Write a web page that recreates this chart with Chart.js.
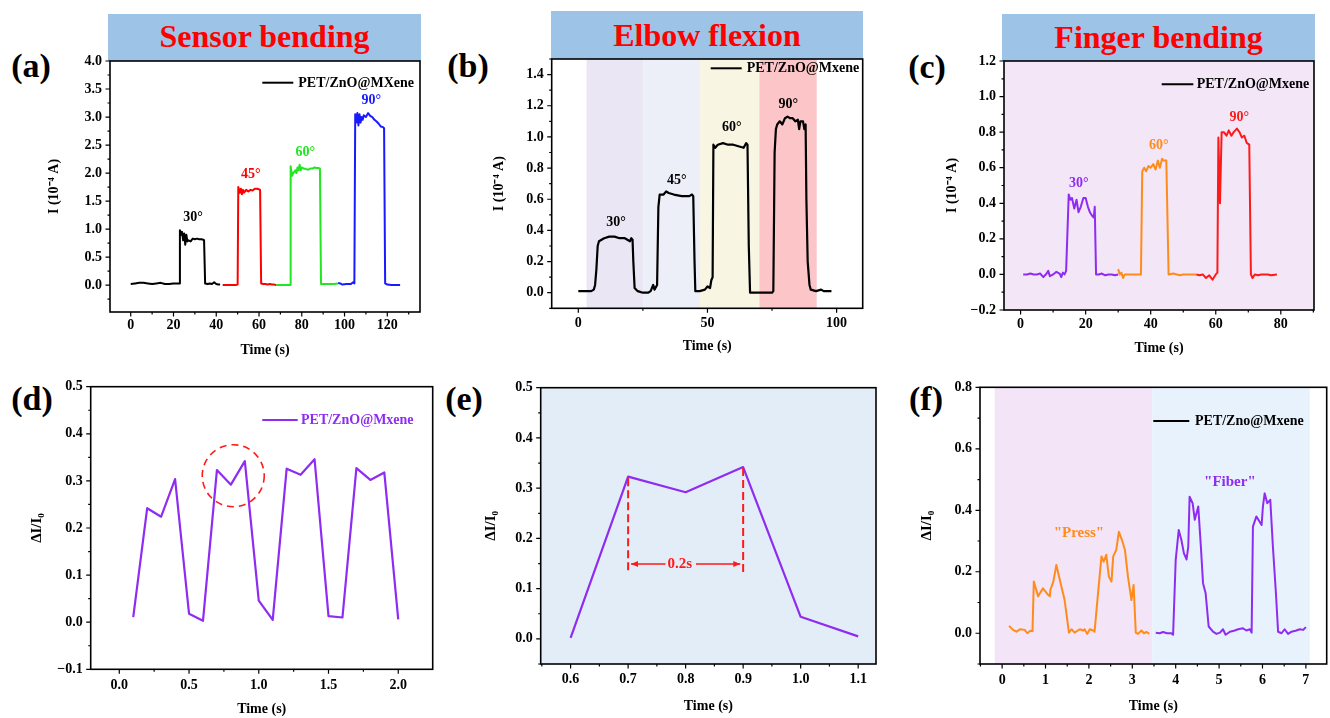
<!DOCTYPE html>
<html><head><meta charset="utf-8">
<script src="https://cdn.jsdelivr.net/npm/chart.js@4.4.1/dist/chart.umd.min.js"></script>
<style>
body{margin:0;width:1330px;height:718px;background:#fff;position:relative;overflow:hidden;font-family:'Liberation Serif','Times New Roman',serif}
canvas{position:absolute;left:0;top:0}
.hdr{position:absolute;background:#9dc3e6;color:#ff0000;font-weight:bold;font-size:32px;text-align:center;white-space:nowrap}
.lab{position:absolute;font-weight:bold;font-size:34px;width:70px;text-align:center;line-height:34px;color:#000}
</style></head><body>
<div class="hdr" style="left:108px;top:14px;width:313px;height:47px;line-height:44px">Sensor bending</div>
<div class="hdr" style="left:551px;top:11px;width:312px;height:48px;line-height:48px">Elbow flexion</div>
<div class="hdr" style="left:1002px;top:14px;width:313px;height:47px;line-height:47px">Finger bending</div>
<div class="lab" style="left:-4px;top:49px">(a)</div>
<div class="lab" style="left:433px;top:49px">(b)</div>
<div class="lab" style="left:892px;top:50px">(c)</div>
<div class="lab" style="left:-3px;top:382px">(d)</div>
<div class="lab" style="left:429px;top:382px">(e)</div>
<div class="lab" style="left:891px;top:382px">(f)</div>
<canvas id="ca" width="1330" height="718"></canvas>
<canvas id="cb" width="1330" height="718"></canvas>
<canvas id="cc" width="1330" height="718"></canvas>
<canvas id="cd" width="1330" height="718"></canvas>
<canvas id="ce" width="1330" height="718"></canvas>
<canvas id="cf" width="1330" height="718"></canvas>
<script>
// ---------------- DATA ----------------
// (a) Sensor bending: [time s, I (1e-4 A)]
const a30 = [[0,0.02],[2,0.03],[4,0.04],[6,0.04],[8,0.03],[10,0.02],[12,0.03],[14,0.04],[16,0.02],[18,0.02],[20,0.03],[22,0.03],[22.8,0.03],[23,0.98],[23.5,0.9],[24,0.95],[24.5,0.8],[25,0.92],[25.5,0.72],[26,0.9],[26.5,0.78],[27,0.8],[28,0.78],[29,0.83],[30,0.82],[31,0.83],[32,0.82],[33,0.82],[34,0.81],[34.3,0.8],[34.8,0.03],[36,0.02],[37,0.03],[38,0.02],[39,0.05],[40,0.02],[41,0.01],[41.8,0.01]];
const a45 = [[43,0.0],[45,0.0],[47,0.0],[49,0.0],[50,0.01],[50.3,1.75],[51,1.65],[51.5,1.72],[52,1.62],[52.5,1.7],[53,1.65],[54,1.7],[55,1.67],[56,1.7],[57,1.69],[58,1.72],[59,1.72],[60,1.71],[60.5,1.7],[61,0.03],[62,0.02],[63,0.02],[64,0.01],[65,0.02],[66,0.01],[67,0.01],[68,0.0]];
const a60 = [[68,0.0],[70,0.0],[72,0.0],[74,0.0],[74.5,0.0],[74.8,2.12],[75.5,1.95],[76,2.0],[76.5,2.02],[77,2.05],[77.5,2.0],[78,2.1],[78.5,2.05],[79,2.15],[79.5,2.05],[80,2.1],[81,2.08],[82,2.07],[83,2.06],[84,2.08],[85,2.08],[86,2.1],[87,2.09],[88,2.09],[88.5,2.08],[89,0.02],[91,0.02],[93,0.02],[95,0.02],[97,0.03]];
const a90 = [[97,0.04],[98,0.03],[99,0.01],[101,0.02],[103,0.02],[104,0.05],[104.6,0.03],[105,3.05],[105.5,2.9],[106,3.07],[106.5,2.85],[107,3.05],[107.5,2.9],[108,3.0],[108.5,2.95],[109,3.03],[110,3.0],[111,3.07],[112,3.02],[113,3.0],[114,2.95],[115,2.92],[116,2.88],[117,2.83],[118,2.82],[118.5,2.8],[119,0.03],[120,0.01],[122,0.0],[124,0.0],[126,0.0]];
const aXTicks = [0,20,40,60,80,100,120];
const aYTicks = [0,0.5,1,1.5,2,2.5,3,3.5,4];

// (b) Elbow flexion
const bElbow = [[0,0.01],[2,0.01],[4,0.01],[5,0.01],[6,0.02],[6.5,0.05],[7,0.15],[7.5,0.3],[8,0.33],[9,0.34],[10,0.35],[12,0.36],[14,0.36],[16,0.35],[18,0.35],[19,0.34],[20,0.33],[20.5,0.35],[21,0.34],[21.3,0.2],[21.8,0.03],[23,0.01],[25,0.0],[27,0.0],[28,0.01],[29,0.05],[29.5,0.02],[30.5,0.05],[31,0.55],[31.5,0.63],[33,0.63],[34,0.65],[35,0.64],[37,0.63],[40,0.62],[43,0.62],[44,0.63],[44.5,0.62],[45,0.2],[45.3,0.01],[47,0.01],[49,0.02],[50,0.04],[51,0.03],[51.5,0.08],[52,0.1],[52.3,0.95],[53,0.93],[54,0.95],[56,0.96],[58,0.95],[60,0.95],[62,0.94],[64,0.93],[65,0.96],[65.5,0.95],[66,0.3],[66.5,0.0],[68,0.0],[70,0.0],[72,0.0],[74,0.0],[75,0.0],[75.5,0.01],[76,0.9],[76.5,1.05],[77,1.08],[78,1.1],[79,1.08],[80,1.12],[81,1.13],[82,1.12],[83,1.12],[84,1.1],[85,1.11],[85.5,1.05],[86,1.1],[87,1.1],[87.5,1.05],[88,1.08],[88.3,0.6],[88.8,0.2],[89.5,0.05],[90,0.02],[92,0.01],[94,0.02],[95,0.01],[98,0.01]];
const bBands = [[3.2,25.2],[25.2,47.1],[47.1,70.1],[70.1,92.3]];
const bXTicks = [0,50,100];
const bYTicks = [0,0.2,0.4,0.6,0.8,1.0,1.2,1.4];

// (c) Finger bending
const c30 = [[0.8,0.0],[2,0.0],[3,0.005],[4,0.0],[5,0.0],[6,0.005],[7,-0.015],[8,0.005],[8.5,0.02],[9,-0.01],[10,0.0],[11,0.015],[12,0.005],[12.5,-0.015],[13,0.01],[13.5,0.0],[14,0.02],[14.8,0.45],[15.3,0.42],[15.8,0.43],[16.5,0.37],[17.2,0.42],[17.8,0.35],[18.5,0.38],[19.3,0.43],[20,0.43],[20.7,0.38],[21.3,0.35],[22,0.33],[22.5,0.32],[22.8,0.38],[23.2,0.0],[24,0.0],[25,0.005],[26,-0.005],[27,0.0],[28,0.0],[29,-0.005],[30,0.0]];
const c60 = [[30,0.03],[30.5,0.0],[31,0.01],[31.5,-0.02],[32,0.0],[33,0.0],[34,0.0],[36,0.0],[37,0.0],[37.4,0.58],[38,0.6],[38.6,0.58],[39.3,0.61],[40,0.6],[40.8,0.62],[41.5,0.59],[42.2,0.64],[42.8,0.6],[43.5,0.65],[44,0.64],[44.8,0.64],[45.5,0.0],[47,0.005],[48,0.0],[49,-0.005],[50,0.0],[52,0.0],[54,0.0]];
const c90 = [[54,0.0],[55,-0.005],[56,0.0],[57,-0.02],[58,-0.005],[59,-0.03],[60,0.0],[60.5,0.01],[60.8,0.77],[61.3,0.4],[61.8,0.8],[62.5,0.8],[63.3,0.78],[64,0.81],[64.8,0.78],[65.5,0.8],[66.5,0.82],[67.3,0.8],[68,0.77],[68.8,0.78],[69.5,0.74],[70.3,0.73],[70.8,0.0],[71.3,-0.02],[72,0.0],[73,-0.005],[74,0.0],[75,0.0],[76,0.0],[77,-0.005],[78.8,0.0]];
const cXTicks = [0,20,40,60,80];
const cYTicks = [-0.2,0,0.2,0.4,0.6,0.8,1.0,1.2];

// (d) response over repeated cycles
const dTime = [0.1,0.2,0.3,0.4,0.5,0.6,0.7,0.8,0.9,1.0,1.1,1.2,1.3,1.4,1.5,1.6,1.7,1.8,1.9,2.0];
const dValue = [0.011,0.242,0.224,0.304,0.018,0.003,0.323,0.292,0.342,0.046,0.005,0.326,0.313,0.346,0.013,0.010,0.327,0.302,0.318,0.006];
const dXTicks = [0,0.5,1.0,1.5,2.0];
const dYTicks = [-0.1,0,0.1,0.2,0.3,0.4,0.5];

// (e) zoomed single cycle
const eTime = [0.6,0.7,0.8,0.9,1.0,1.1];
const eValue = [0.002,0.323,0.292,0.342,0.044,0.005];
const eXTicks = [0.6,0.7,0.8,0.9,1.0,1.1];
const eYTicks = [0,0.1,0.2,0.3,0.4,0.5];

// (f) "Press" / "Fiber"
const fPress = [[0.16,0.024],[0.25,0.011],[0.33,0.005],[0.41,0.013],[0.52,0.011],[0.58,0.0],[0.65,0.008],[0.7,0.007],[0.73,0.168],[0.83,0.12],[0.94,0.146],[1.06,0.125],[1.1,0.12],[1.11,0.14],[1.18,0.168],[1.25,0.222],[1.33,0.173],[1.44,0.108],[1.54,0.002],[1.6,0.013],[1.67,0.002],[1.79,0.013],[1.87,0.009],[1.9,0.013],[1.96,-0.002],[2.02,0.013],[2.1,0.009],[2.13,0.005],[2.21,0.13],[2.29,0.25],[2.34,0.233],[2.4,0.255],[2.46,0.184],[2.52,0.168],[2.56,0.25],[2.63,0.271],[2.69,0.33],[2.76,0.304],[2.83,0.271],[2.9,0.184],[2.98,0.108],[3.03,0.157],[3.08,0.002],[3.13,-0.002],[3.21,0.009],[3.27,0.0],[3.33,0.004],[3.39,-0.002]];
const fFiber = [[3.54,0.002],[3.63,0.0],[3.71,0.004],[3.8,0.0],[3.9,0.0],[3.94,-0.005],[4.0,0.238],[4.07,0.336],[4.13,0.304],[4.19,0.26],[4.25,0.24],[4.29,0.282],[4.32,0.444],[4.39,0.423],[4.44,0.369],[4.52,0.412],[4.58,0.282],[4.63,0.163],[4.69,0.13],[4.76,0.022],[4.86,0.005],[4.94,-0.002],[5.02,0.002],[5.09,0.013],[5.15,-0.005],[5.25,0.005],[5.36,0.009],[5.44,0.013],[5.55,0.016],[5.63,0.009],[5.71,0.013],[5.75,0.002],[5.78,0.347],[5.86,0.38],[5.98,0.352],[6.01,0.412],[6.05,0.455],[6.11,0.423],[6.18,0.434],[6.24,0.282],[6.31,0.13],[6.36,0.005],[6.44,0.0],[6.51,0.013],[6.59,-0.002],[6.67,0.005],[6.78,0.009],[6.86,0.013],[6.94,0.011],[7.0,0.02]];
const fBands = [[-0.17,3.46],[3.46,7.09]];
const fXTicks = [0,1,2,3,4,5,6,7];
const fYTicks = [0,0.2,0.4,0.6,0.8];

// ---------------- STYLE / RENDER ----------------
const FONT = "'Liberation Serif','Times New Roman',serif";
const PURPLE = '#8f2cf2', ORANGE = '#ff8c1a', RED = '#ff1a1a';
const fmt = (v, d) => (Math.abs(v) < 1e-9 ? 0 : v).toFixed(d).replace('-', '\u2212');
const pairs = arr => arr.map(p => ({x: p[0], y: p[1]}));
const zip = (xs, ys) => xs.map((x, i) => ({x, y: ys[i]}));

function minors(majors, min, max) {
  const step = majors[1] - majors[0], out = [];
  let v = majors[0] - step / 2;
  while (v >= min - 1e-9) { out.push(v); v -= step / 2; }
  v = majors[0] + step / 2;
  while (v <= max + 1e-9) { out.push(v); v += step / 2; }
  return out;
}

function makePanel(id, cfg) {
  const lhY = cfg.yTitleSize * 1.2, lhX = 14 * 1.2;
  const [L, T, R, B] = cfg.plot;
  const padLeft = cfg.yTitleX - lhY / 2;
  let padBottom = 718 - (cfg.xTitleY + lhX / 2);
  if (padBottom < 0) padBottom = 0;
  const wY = L - padLeft, hX = 718 - padBottom - B;
  const tickFont = {family: FONT, size: 14, weight: 'bold', lineHeight: 1.1};
  const deco = {
    id: 'deco_' + id,
    beforeDraw(chart) {
      const {ctx, chartArea: ca, scales: {x}} = chart;
      ctx.save();
      if (cfg.bg) { ctx.fillStyle = cfg.bg; ctx.fillRect(ca.left, ca.top, ca.width, ca.height); }
      (cfg.bands || []).forEach((b, i) => {
        const x0 = Math.max(ca.left, x.getPixelForValue(b[0])), x1 = Math.min(ca.right, x.getPixelForValue(b[1]));
        ctx.fillStyle = cfg.bandColors[i];
        ctx.fillRect(x0, ca.top, x1 - x0, ca.height);
      });
      ctx.restore();
    },
    afterDatasetsDraw(chart) {
      const {ctx, chartArea: ca, scales: {x, y}} = chart;
      ctx.save();
      // frame
      ctx.strokeStyle = '#000'; ctx.lineWidth = 1.6;
      ctx.strokeRect(ca.left, ca.top, ca.width, ca.height);
      // ticks
      ctx.lineWidth = 1.2;
      const xm = minors(cfg.xTicks, cfg.xMin, cfg.xMax), ym = minors(cfg.yTicks, cfg.yMin, cfg.yMax);
      ctx.beginPath();
      cfg.xTicks.forEach(v => { const p = x.getPixelForValue(v); ctx.moveTo(p, ca.bottom); ctx.lineTo(p, ca.bottom + 4.5); });
      xm.forEach(v => { const p = x.getPixelForValue(v); ctx.moveTo(p, ca.bottom); ctx.lineTo(p, ca.bottom + 2.5); });
      cfg.yTicks.forEach(v => { const p = y.getPixelForValue(v); ctx.moveTo(ca.left, p); ctx.lineTo(ca.left - 4.5, p); });
      ym.forEach(v => { const p = y.getPixelForValue(v); ctx.moveTo(ca.left, p); ctx.lineTo(ca.left - 2.5, p); });
      ctx.stroke();
      // text annotations
      (cfg.notes || []).forEach(n => {
        ctx.fillStyle = n.color; ctx.font = 'bold ' + (n.size || 14) + 'px ' + FONT;
        ctx.textAlign = 'center'; ctx.textBaseline = 'middle';
        ctx.fillText(n.text, x.getPixelForValue(n.x), y.getPixelForValue(n.y));
      });
      if (cfg.extra) cfg.extra(ctx, x, y, ca);
      // legend
      if (cfg.legend) {
        const lg = cfg.legend;
        ctx.strokeStyle = lg.lineColor; ctx.lineWidth = 2;
        ctx.beginPath(); ctx.moveTo(ca.left + lg.dx1, ca.top + lg.dy); ctx.lineTo(ca.left + lg.dx2, ca.top + lg.dy); ctx.stroke();
        ctx.fillStyle = lg.textColor; ctx.font = 'bold 14px ' + FONT;
        ctx.textAlign = 'left'; ctx.textBaseline = 'middle';
        ctx.fillText(lg.text, ca.left + lg.dxt, ca.top + lg.dy + 0.5);
      }
      ctx.restore();
    }
  };
  return new Chart(document.getElementById(id), {
    type: 'line',
    data: {datasets: cfg.series.map(s => ({
      data: s.data, borderColor: s.color, borderWidth: s.width || 2,
      pointRadius: 0, tension: 0, fill: false, borderJoinStyle: 'round'
    }))},
    options: {
      responsive: false, animation: false, devicePixelRatio: 1,
      events: [],
      layout: {padding: {left: padLeft, top: T, right: 1330 - R, bottom: padBottom}},
      plugins: {legend: {display: false}, tooltip: {enabled: false}},
      scales: {
        x: {
          type: 'linear', min: cfg.xMin, max: cfg.xMax,
          grid: {display: false, drawTicks: false}, border: {display: false},
          afterBuildTicks: s => { s.ticks = cfg.xTicks.map(v => ({value: v})); },
          afterFit: s => { s.height = hX; },
          ticks: {autoSkip: false, maxRotation: 0, padding: cfg.xPad, color: '#000', font: tickFont,
                  callback: v => fmt(v, cfg.xDec)},
          title: {display: true, text: 'Time (s)', padding: 0, color: '#000',
                  font: {family: FONT, size: 14, weight: 'bold', lineHeight: 1.2}}
        },
        y: {
          type: 'linear', min: cfg.yMin, max: cfg.yMax,
          grid: {display: false, drawTicks: false}, border: {display: false},
          afterBuildTicks: s => { s.ticks = cfg.yTicks.map(v => ({value: v})); },
          afterFit: s => { s.width = wY; },
          ticks: {autoSkip: false, padding: 8, color: '#000', font: tickFont,
                  callback: v => fmt(v, cfg.yDec)},
          title: {display: true, text: cfg.yTitle, padding: 0, color: '#000',
                  font: {family: FONT, size: cfg.yTitleSize, weight: 'bold', lineHeight: 1.2}}
        }
      }
    },
    plugins: [deco]
  });
}

const I_TITLE = 'I (10\u207B\u2074 A)';
const D_TITLE = '\u0394I/I\u2080';

makePanel('ca', {
  plot: [110, 61, 420, 312], yTitleX: 54, xTitleY: 350, yTitleSize: 14, xPad: 6,
  xMin: -9.7, xMax: 135.3, yMin: -0.48, yMax: 4.0, xTicks: aXTicks, yTicks: aYTicks, xDec: 0, yDec: 1,
  yTitle: I_TITLE,
  series: [{data: pairs(a30), color: '#000'}, {data: pairs(a45), color: '#ff0000'},
           {data: pairs(a60), color: '#22e622'}, {data: pairs(a90), color: '#1a1aff'}],
  notes: [{text: '30°', x: 29.2, y: 1.2, color: '#000'}, {text: '45°', x: 56.2, y: 1.98, color: '#ff0000'},
          {text: '60°', x: 81.7, y: 2.37, color: '#22e622'}, {text: '90°', x: 112.5, y: 3.3, color: '#1a1aff'}],
  legend: {dx1: 152.3, dx2: 183.3, dxt: 188.3, dy: 21.7, text: 'PET/ZnO@MXene', lineColor: '#000', textColor: '#000'}
});

makePanel('cb', {
  plot: [551.7, 59, 862.7, 308.3], yTitleX: 499.3, xTitleY: 346, yTitleSize: 14, xPad: 7,
  xMin: -10.3, xMax: 110.1, yMin: -0.1, yMax: 1.5, xTicks: bXTicks, yTicks: bYTicks, xDec: 0, yDec: 1,
  yTitle: I_TITLE,
  bands: bBands, bandColors: ['#ebe6f4', '#eceff8', '#f8f5e3', '#fcc5c7'],
  series: [{data: pairs(bElbow), color: '#000', width: 2.2}],
  notes: [{text: '30°', x: 14.6, y: 0.45, color: '#000'}, {text: '45°', x: 38.1, y: 0.72, color: '#000'},
          {text: '60°', x: 59.4, y: 1.06, color: '#000'}, {text: '90°', x: 81.3, y: 1.21, color: '#000'}],
  legend: {dx1: 159, dx2: 190, dxt: 195, dy: 9.3, text: 'PET/ZnO@Mxene', lineColor: '#000', textColor: '#000'}
});

makePanel('cc', {
  plot: [1004, 61, 1314, 310], yTitleX: 952.7, xTitleY: 348, yTitleSize: 14, xPad: 7,
  xMin: -5.1, xMax: 90.2, yMin: -0.2, yMax: 1.2, xTicks: cXTicks, yTicks: cYTicks, xDec: 0, yDec: 1,
  yTitle: I_TITLE, bg: '#f3e6f7',
  series: [{data: pairs(c30), color: PURPLE}, {data: pairs(c60), color: ORANGE}, {data: pairs(c90), color: RED}],
  notes: [{text: '30°', x: 17.9, y: 0.51, color: PURPLE}, {text: '60°', x: 42.5, y: 0.725, color: ORANGE},
          {text: '90°', x: 67.2, y: 0.885, color: RED}],
  legend: {dx1: 157.7, dx2: 189.3, dxt: 192.7, dy: 23.3, text: 'PET/ZnO@Mxene', lineColor: '#000', textColor: '#000'}
});

makePanel('cd', {
  plot: [90.7, 386.7, 432.7, 669.3], yTitleX: 37.3, xTitleY: 710.7, yTitleSize: 15, xPad: 8,
  xMin: -0.205, xMax: 2.247, yMin: -0.1, yMax: 0.5, xTicks: dXTicks, yTicks: dYTicks, xDec: 1, yDec: 1,
  yTitle: D_TITLE,
  series: [{data: zip(dTime, dValue), color: PURPLE, width: 2.2}],
  extra(ctx, x, y) {
    ctx.strokeStyle = '#ff1a1a'; ctx.lineWidth = 1.6; ctx.setLineDash([7, 5]);
    ctx.beginPath(); ctx.arc(x.getPixelForValue(0.817), y.getPixelForValue(0.311), 31, 0, Math.PI * 2); ctx.stroke();
    ctx.setLineDash([]);
  },
  legend: {dx1: 171.6, dx2: 207, dxt: 210.3, dy: 33.3, text: 'PET/ZnO@Mxene', lineColor: PURPLE, textColor: PURPLE}
});

makePanel('ce', {
  plot: [540.7, 387.7, 876, 664], yTitleX: 490.7, xTitleY: 706, yTitleSize: 15, xPad: 8,
  xMin: 0.548, xMax: 1.131, yMin: -0.05, yMax: 0.5, xTicks: eXTicks, yTicks: eYTicks, xDec: 1, yDec: 1,
  yTitle: D_TITLE, bg: '#e3edf7',
  series: [{data: zip(eTime, eValue), color: PURPLE, width: 2.2}],
  extra(ctx, x, y) {
    ctx.strokeStyle = '#ff1a1a'; ctx.fillStyle = '#ff1a1a'; ctx.lineWidth = 2;
    ctx.setLineDash([8, 4]);
    ctx.beginPath();
    ctx.moveTo(x.getPixelForValue(0.7), y.getPixelForValue(0.32)); ctx.lineTo(x.getPixelForValue(0.7), y.getPixelForValue(0.135));
    ctx.moveTo(x.getPixelForValue(0.9), y.getPixelForValue(0.34)); ctx.lineTo(x.getPixelForValue(0.9), y.getPixelForValue(0.13));
    ctx.stroke();
    ctx.setLineDash([]);
    const ay = y.getPixelForValue(0.149);
    const xl = x.getPixelForValue(0.705), xr = x.getPixelForValue(0.895);
    ctx.lineWidth = 1.5;
    ctx.beginPath();
    ctx.moveTo(xl, ay); ctx.lineTo(x.getPixelForValue(0.765), ay);
    ctx.moveTo(x.getPixelForValue(0.818), ay); ctx.lineTo(xr, ay);
    ctx.stroke();
    ctx.beginPath(); ctx.moveTo(xl, ay); ctx.lineTo(xl + 7, ay - 3); ctx.lineTo(xl + 7, ay + 3); ctx.closePath(); ctx.fill();
    ctx.beginPath(); ctx.moveTo(xr, ay); ctx.lineTo(xr - 7, ay - 3); ctx.lineTo(xr - 7, ay + 3); ctx.closePath(); ctx.fill();
    ctx.font = 'bold 15px ' + FONT; ctx.textAlign = 'center'; ctx.textBaseline = 'middle';
    ctx.fillText('0.2s', x.getPixelForValue(0.79), ay);
  }
});

makePanel('cf', {
  plot: [980, 387.3, 1326.7, 664], yTitleX: 926.7, xTitleY: 706.7, yTitleSize: 15, xPad: 9,
  xMin: -0.51, xMax: 7.48, yMin: -0.1, yMax: 0.8, xTicks: fXTicks, yTicks: fYTicks, xDec: 0, yDec: 1,
  yTitle: D_TITLE,
  bands: fBands, bandColors: ['#f3e4f7', '#e8f2fd'],
  series: [{data: pairs(fPress), color: ORANGE, width: 2}, {data: pairs(fFiber), color: PURPLE, width: 2}],
  notes: [{text: '"Press"', x: 1.77, y: 0.325, color: ORANGE, size: 15}, {text: '"Fiber"', x: 5.25, y: 0.493, color: PURPLE, size: 15}],
  legend: {dx1: 173.3, dx2: 209.3, dxt: 215, dy: 33.7, text: 'PET/Zno@Mxene', lineColor: '#000', textColor: '#000'}
});
</script>
</body></html>
